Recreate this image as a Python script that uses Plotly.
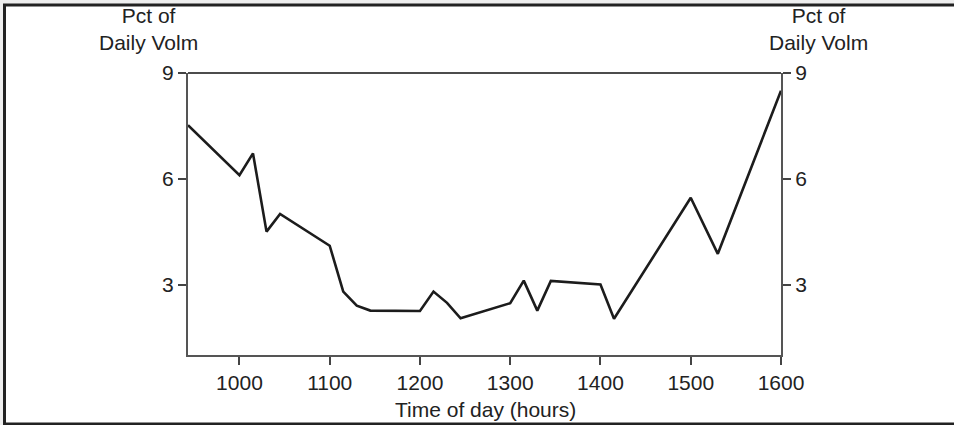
import plotly.graph_objects as go

# Data (time of day in hhmm, percent of daily volume)
times = [943, 1000, 1015, 1030, 1045, 1100, 1115, 1130, 1145, 1200, 1215, 1230, 1245,
         1300, 1315, 1330, 1345, 1400, 1415, 1500, 1530, 1600]
pct = [7.52, 6.1, 6.72, 4.5, 5.0, 4.1, 2.8, 2.4, 2.26, 2.25, 2.8, 2.48, 2.04,
       2.47, 3.11, 2.26, 3.1, 3.0, 2.03, 5.46, 3.87, 8.5]
x_ticks = [1000, 1100, 1200, 1300, 1400, 1500, 1600]
y_ticks = [3, 6, 9]
y_title = "Pct of<br>Daily Volm"
x_title = "Time of day (hours)"

FONT = "Liberation Sans, Arial, Helvetica, sans-serif"
FS = 21
TXT = "#222222"
W, H = 954, 425
ML, MR, MT, MB = 188, 173, 73, 70
PW, PH = W - ML - MR, H - MT - MB


def px_x(p):
    return (p - ML) / PW


def px_y(p):
    return (H - MB - p) / PH


fig = go.Figure()
fig.add_trace(go.Scatter(x=times, y=pct, mode="lines",
                         line=dict(color="#1c1c1c", width=2.6),
                         hoverinfo="skip", showlegend=False))
fig.add_trace(go.Scatter(x=times, y=pct, mode="lines", yaxis="y2",
                         line=dict(color="rgba(0,0,0,0)", width=0),
                         hoverinfo="skip", showlegend=False))

axis_common = dict(showgrid=False, zeroline=False, showline=True,
                   linecolor="#555555", linewidth=2,
                   ticks="outside", ticklen=8, tickwidth=1.5, tickcolor="#444444",
                   tickfont=dict(family=FONT, size=FS, color=TXT))

fig.update_layout(
    width=W, height=H,
    margin=dict(l=ML, r=MR, t=MT, b=MB),
    paper_bgcolor="#eeeeee",
    plot_bgcolor="rgba(0,0,0,0)",
    xaxis=dict(range=[943, 1600], tickvals=x_ticks, **axis_common),
    yaxis=dict(range=[1, 9], tickvals=y_ticks, **axis_common),
    yaxis2=dict(range=[1, 9], tickvals=y_ticks, overlaying="y", side="right",
                **axis_common),
    shapes=[
        # outer frame
        dict(type="rect", xref="paper", yref="paper",
             x0=px_x(4.5), x1=px_x(965), y0=px_y(5), y1=px_y(424),
             line=dict(color="#222222", width=3), fillcolor="white", layer="below"),
        # top line of plot box
        dict(type="line", xref="paper", yref="paper",
             x0=0, x1=1, y0=1, y1=1,
             line=dict(color="#111111", width=1.5)),
    ],
    annotations=[
        dict(text=y_title, xref="paper", yref="paper", x=px_x(148), y=px_y(29),
             xanchor="center", yanchor="middle", showarrow=False, align="center",
             font=dict(family=FONT, size=FS, color=TXT)),
        dict(text=y_title, xref="paper", yref="paper", x=px_x(818), y=px_y(29),
             xanchor="center", yanchor="middle", showarrow=False, align="center",
             font=dict(family=FONT, size=FS, color=TXT)),
        dict(text=x_title, xref="paper", yref="paper", x=px_x(485), y=px_y(410),
             xanchor="center", yanchor="middle", showarrow=False,
             font=dict(family=FONT, size=FS, color=TXT)),
    ],
)

fig.write_html(
    "out.html",
    config={"displayModeBar": False},
    post_script="document.body.style.margin='0';document.body.style.overflow='hidden';",
)
